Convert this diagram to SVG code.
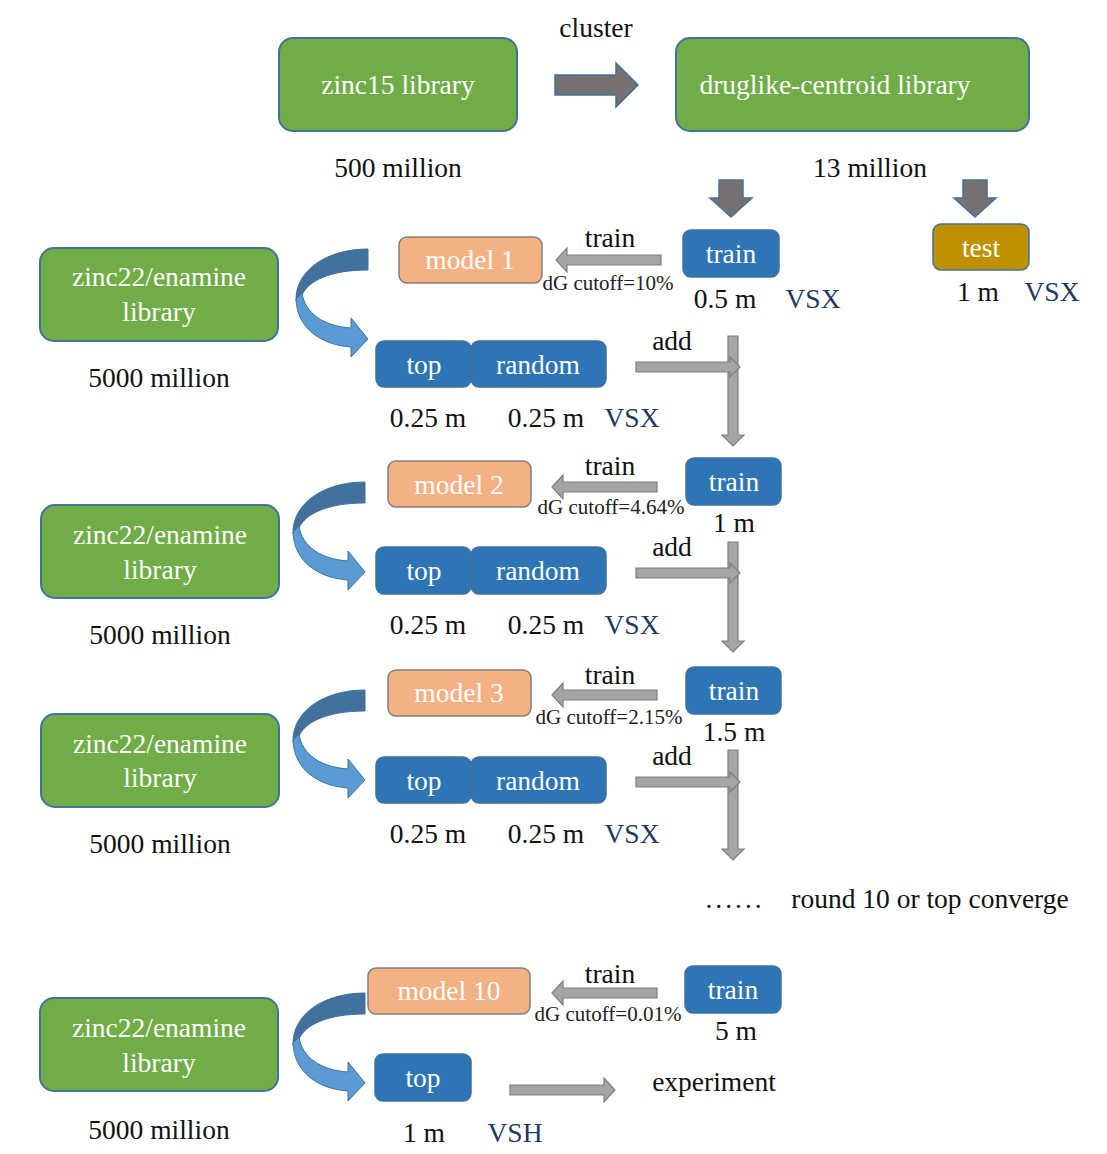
<svg xmlns="http://www.w3.org/2000/svg" width="1107" height="1154" viewBox="0 0 1107 1154">
<style>
text{font-family:"Liberation Serif","Times New Roman",serif;font-size:27.5px;text-anchor:middle;fill:#111}
.w{fill:#fff}
.v{fill:#203864}
.s{font-size:21px;fill:#222}
.green{fill:#70AD47;stroke:#41719C;stroke-width:2}
.blue{fill:#2E75B6;stroke:#41719C;stroke-width:1.5}
.orange{fill:#F4B183;stroke:#7F7F7F;stroke-width:1.5}
.gold{fill:#BF9000;stroke:#41719C;stroke-width:1.5}
.ga{fill:#A5A5A5;stroke:#7F7F7F;stroke-width:1.2}
.da{fill:#767171;stroke:#41719C;stroke-width:1.5}
.cd{fill:#41719C;stroke:#41719C;stroke-width:1}
.cl{fill:#5B9BD5;stroke:#41719C;stroke-width:1}
</style>
<defs>
<g id="curve">
<path class="cd" d="M0,0 C-42,0 -73,22 -72,52 L-66,46 C-60,32 -38,21 0,21 Z"/>
<path class="cl" d="M-72,50 C-71,80 -46,96 -17,98 L-17,108 L0,90 L-17,69 L-17,79 C-45,77 -63,64 -66,44 Z"/>
</g>
<polygon id="trainArrow" class="ga" points="0,0 11,-12 11,-5 105,-5 105,5 11,5 11,12"/>
<polygon id="downArrow" class="da" points="-12,0 12,0 12,18 21,18 0,37 -21,18 -12,18"/>
</defs>

<g id="connectors">
<polygon class="da" points="555,75 616,75 616,63 638,85 616,107 616,95 555,95"/>
<use href="#downArrow" x="731" y="180"/>
<use href="#downArrow" x="975" y="180"/>
<use href="#trainArrow" x="556" y="260"/>
<use href="#trainArrow" x="552" y="487"/>
<use href="#trainArrow" x="552" y="695"/>
<use href="#trainArrow" x="552" y="993"/>
<use href="#curve" x="368" y="249"/>
<use href="#curve" x="365" y="482"/>
<use href="#curve" x="365" y="690"/>
<use href="#curve" x="365" y="993"/>
<polygon class="ga" points="728,336 738,336 738,435 744,435 733,446 722,435 728,435"/>
<polygon class="ga" points="636,362 730,362 730,357 740,367 730,377 730,372 636,372"/>
<polygon class="ga" points="728,542 738,542 738,641 744,641 733,652 722,641 728,641"/>
<polygon class="ga" points="636,568 730,568 730,563 740,573 730,583 730,578 636,578"/>
<polygon class="ga" points="728,750 738,750 738,849 744,849 733,860 722,849 728,849"/>
<polygon class="ga" points="636,777 730,777 730,772 740,782 730,792 730,787 636,787"/>
<polygon class="ga" points="510,1085 604,1085 604,1078 615,1090 604,1102 604,1095 510,1095"/>
</g>

<text x="596" y="37">cluster</text>
<g id="zinc15"><rect class="green" x="279" y="38" width="238" height="93" rx="14"/><text class="w" x="398" y="94">zinc15 library</text></g>
<g id="druglike"><rect class="green" x="676" y="38" width="353" height="93" rx="14"/><text class="w" x="835" y="94">druglike-centroid library</text></g>
<text x="398" y="177">500 million</text>
<text x="870" y="177">13 million</text>

<g id="train1"><rect class="blue" x="683" y="230" width="96" height="47" rx="8"/><text class="w" x="731" y="263">train</text></g>
<g id="test"><rect class="gold" x="933" y="224" width="96" height="46" rx="8"/><text class="w" x="981" y="257">test</text></g>
<text x="725" y="308">0.5 m</text><text class="v" x="813" y="308">VSX</text>
<text x="978" y="301">1 m</text><text class="v" x="1052" y="301">VSX</text>

<g id="model1"><rect class="orange" x="399" y="237" width="143" height="46" rx="8"/><text class="w" x="470" y="269">model 1</text></g>
<text x="610" y="247">train</text>
<text class="s" x="608" y="290">dG cutoff=10%</text>
<g id="lib1"><rect class="green" x="40" y="248" width="238" height="93" rx="14"/><text class="w" x="159" y="286">zinc22/enamine</text><text class="w" x="159" y="321">library</text></g>
<text x="159" y="387">5000 million</text>
<g id="top1"><rect class="blue" x="376" y="341" width="95" height="46" rx="8"/><text class="w" x="424" y="374">top</text></g>
<g id="random1"><rect class="blue" x="471" y="341" width="135" height="46" rx="8"/><text class="w" x="538" y="374">random</text></g>
<text x="428" y="427">0.25 m</text><text x="546" y="427">0.25 m</text><text class="v" x="632" y="427">VSX</text>
<text x="672" y="350">add</text>

<g id="model2"><rect class="orange" x="388" y="461" width="143" height="46" rx="8"/><text class="w" x="459" y="494">model 2</text></g>
<text x="610" y="475">train</text>
<text class="s" x="611" y="514">dG cutoff=4.64%</text>
<g id="train2"><rect class="blue" x="686" y="458" width="95" height="47" rx="8"/><text class="w" x="734" y="491">train</text></g>
<text x="734" y="532">1 m</text>
<g id="lib2"><rect class="green" x="41" y="505" width="238" height="93" rx="14"/><text class="w" x="160" y="544">zinc22/enamine</text><text class="w" x="160" y="579">library</text></g>
<text x="160" y="644">5000 million</text>
<g id="top2"><rect class="blue" x="376" y="547" width="95" height="47" rx="8"/><text class="w" x="424" y="580">top</text></g>
<g id="random2"><rect class="blue" x="471" y="547" width="135" height="47" rx="8"/><text class="w" x="538" y="580">random</text></g>
<text x="428" y="634">0.25 m</text><text x="546" y="634">0.25 m</text><text class="v" x="632" y="634">VSX</text>
<text x="672" y="556">add</text>

<g id="model3"><rect class="orange" x="388" y="670" width="143" height="46" rx="8"/><text class="w" x="459" y="702">model 3</text></g>
<text x="610" y="684">train</text>
<text class="s" x="609" y="724">dG cutoff=2.15%</text>
<g id="train3"><rect class="blue" x="686" y="667" width="95" height="47" rx="8"/><text class="w" x="734" y="700">train</text></g>
<text x="734" y="741">1.5 m</text>
<g id="lib3"><rect class="green" x="41" y="714" width="238" height="93" rx="14"/><text class="w" x="160" y="753">zinc22/enamine</text><text class="w" x="160" y="787">library</text></g>
<text x="160" y="853">5000 million</text>
<g id="top3"><rect class="blue" x="376" y="757" width="95" height="46" rx="8"/><text class="w" x="424" y="790">top</text></g>
<g id="random3"><rect class="blue" x="471" y="757" width="135" height="46" rx="8"/><text class="w" x="538" y="790">random</text></g>
<text x="428" y="843">0.25 m</text><text x="546" y="843">0.25 m</text><text class="v" x="632" y="843">VSX</text>
<text x="672" y="765">add</text>

<text x="735" y="908" letter-spacing="3">......</text>
<text x="930" y="908">round 10 or top converge</text>

<g id="model10"><rect class="orange" x="368" y="968" width="162" height="46" rx="8"/><text class="w" x="449" y="1000">model 10</text></g>
<text x="610" y="983">train</text>
<text class="s" x="608" y="1021">dG cutoff=0.01%</text>
<g id="train10"><rect class="blue" x="685" y="966" width="96" height="47" rx="8"/><text class="w" x="733" y="999">train</text></g>
<text x="736" y="1040">5 m</text>
<g id="lib4"><rect class="green" x="40" y="998" width="238" height="93" rx="14"/><text class="w" x="159" y="1037">zinc22/enamine</text><text class="w" x="159" y="1072">library</text></g>
<text x="159" y="1139">5000 million</text>
<g id="top10"><rect class="blue" x="375" y="1054" width="96" height="47" rx="8"/><text class="w" x="423" y="1087">top</text></g>
<text x="714" y="1091">experiment</text>
<text x="424" y="1142">1 m</text><text class="v" x="515" y="1142">VSH</text>
</svg>
